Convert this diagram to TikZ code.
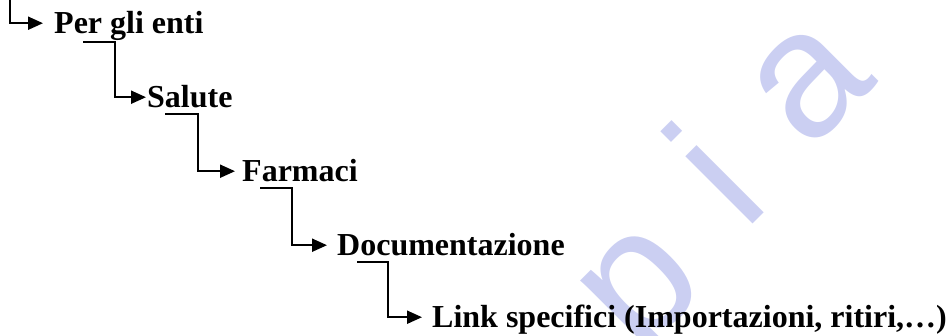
\documentclass[tikz,border=0pt]{standalone}
\usepackage{fontspec}
\setmainfont{Liberation Serif}[Ligatures={TeX,NoCommon}]
\newfontfamily\wmfont{Liberation Sans}
\usetikzlibrary{arrows.meta,calc}
\definecolor{wmblue}{RGB}{203,207,242}
\begin{document}
\begin{tikzpicture}[x=1pt,y=-1pt,
  item/.style={anchor=south west, inner sep=0pt, text height=21.2pt, text depth=0pt,
    font=\fontsize{32}{38}\selectfont\bfseries},
  conn/.style={line width=2.1pt, -{Triangle[length=15pt,width=13pt]}},
  wm/.style={text=wmblue, rotate=45, anchor=mid, inner sep=0pt,
    font=\wmfont\fontsize{180}{180}\selectfont}]
\useasboundingbox (0,0) rectangle (950,335);
\begin{scope}
  \clip (0,0) rectangle (950,335);
  \node[wm] (wp) at (673,319) {p};
  \node[wm] (wi) at (757,217) {i};
  \node[wm] (wa) at (842,115) {a};
\end{scope}
\node[item] (n1) at (54,34) {Per gli enti};
\node[item] (n2) at (147,108) {Salute};
\node[item] (n3) at (242,182) {Farmaci};
\node[item] (n4) at (337,256) {Documentazione};
\node[item] (n5) at (432,328) {Link specifici (Importazioni, ritiri,…)};
\coordinate (top) at (10,0);
\draw[conn] (top) |- ($(n1.west)+(-11,0)$);
\draw[conn] ($(n1.south west)+(29,8)$) -- ($(n1.south west)+(61,8)$) |- ($(n2.west)+(-1,0)$);
\draw[conn] ($(n2.south west)+(18,6)$) -- ($(n2.south west)+(51,6)$) |- ($(n3.west)+(-7,0)$);
\draw[conn] ($(n3.south west)+(18,6)$) -- ($(n3.south west)+(50,6)$) |- ($(n4.west)+(-10,0)$);
\draw[conn] ($(n4.south west)+(20,6)$) -- ($(n4.south west)+(51,6)$) |- ($(n5.west)+(-10,0)$);
\end{tikzpicture}
\end{document}
